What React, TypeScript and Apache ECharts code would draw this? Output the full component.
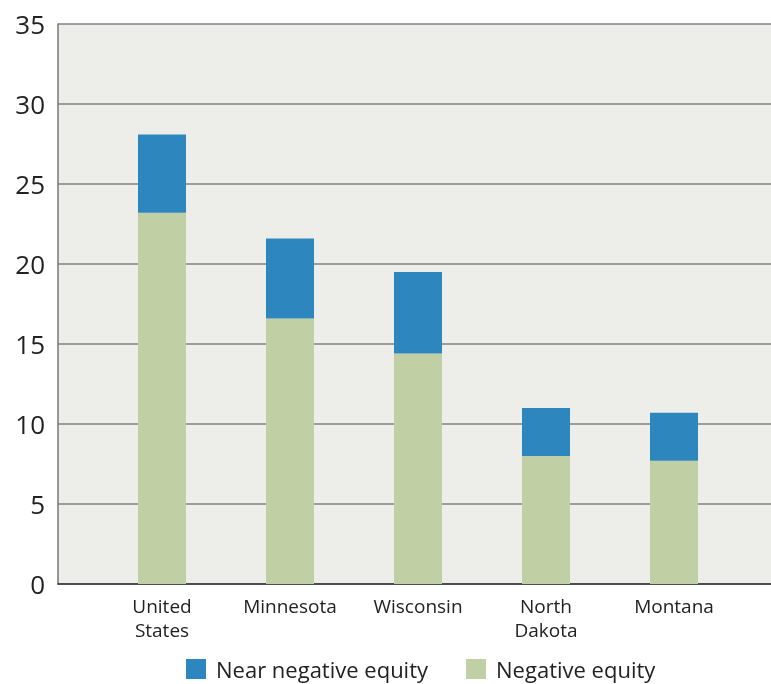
import React, { useEffect, useRef } from "react";
import * as echarts from "echarts";

// Share of mortgaged properties in (near) negative equity, percent
const categories = ["United\nStates", "Minnesota", "Wisconsin", "North\nDakota", "Montana"];
const negativeEquity = [23.2, 16.6, 14.4, 8.0, 7.7];
const nearNegativeEquity = [4.9, 5.0, 5.1, 3.0, 3.0];
const yTicks = [0, 5, 10, 15, 20, 25, 30, 35];

const FONT = "Open Sans";

export default function App() {
  const ref = useRef<HTMLDivElement>(null);

  useEffect(() => {
    if (!ref.current) return;
    const chart = echarts.init(ref.current, undefined, { renderer: "svg" });
    chart.setOption({
      animation: false,
      textStyle: { fontFamily: FONT },
      grid: [
        // full-width panel: background, gridlines, value labels
        {
          left: 58,
          right: 0,
          top: 24,
          bottom: 100,
          show: true,
          backgroundColor: "#edeee9",
          borderWidth: 0,
        },
        // bar panel, inset so the bars sit in the middle of the panel
        { left: 98, right: 33, top: 24, bottom: 100 },
      ],
      legend: {
        left: 186,
        top: 658,
        padding: 0,
        itemWidth: 20,
        itemHeight: 20,
        itemGap: 38,
        icon: "rect",
        data: ["Near negative equity", "Negative equity"],
        textStyle: { fontFamily: FONT, fontSize: 22, color: "#222", padding: [0, 0, 0, 5] },
      },
      xAxis: [
        {
          gridIndex: 0,
          type: "value",
          min: 0,
          max: 1,
          splitLine: { show: false },
          axisLine: { show: true, lineStyle: { color: "#333", width: 1.5 } },
          axisTick: { show: false },
          axisLabel: { show: false },
        },
        {
          gridIndex: 1,
          type: "category",
          data: categories,
          axisLine: { show: false },
          axisTick: { show: false },
          axisLabel: {
            fontFamily: FONT,
            fontSize: 19,
            lineHeight: 24,
            color: "#222",
            margin: 10,
            interval: 0,
          },
        },
      ],
      yAxis: [
        {
          gridIndex: 0,
          type: "value",
          min: 0,
          max: 35,
          interval: 5,
          axisLine: { show: true, lineStyle: { color: "#777", width: 1.5 } },
          axisTick: { show: false },
          splitLine: { show: true, lineStyle: { color: "#808080", width: 1.5 } },
          axisLabel: {
            formatter: (v: number) => (yTicks.includes(v) ? String(v) : ""),
            fontFamily: FONT,
            fontSize: 26,
            color: "#222",
            margin: 13,
          },
        },
        {
          gridIndex: 1,
          type: "value",
          min: 0,
          max: 35,
          interval: 5,
          axisLine: { show: false },
          axisTick: { show: false },
          splitLine: { show: false },
          axisLabel: { show: false },
        },
      ],
      series: [
        {
          name: "Negative equity",
          type: "bar",
          xAxisIndex: 1,
          yAxisIndex: 1,
          stack: "equity",
          barWidth: 48,
          itemStyle: { color: "#c0d0a4" },
          data: negativeEquity,
        },
        {
          name: "Near negative equity",
          type: "bar",
          xAxisIndex: 1,
          yAxisIndex: 1,
          stack: "equity",
          barWidth: 48,
          itemStyle: { color: "#2e86bf" },
          data: nearNegativeEquity,
        },
      ],
    });
    return () => chart.dispose();
  }, []);

  return (
    <div
      ref={ref}
      style={{ position: "fixed", left: 0, top: 0, width: 771, height: 684 }}
    />
  );
}
